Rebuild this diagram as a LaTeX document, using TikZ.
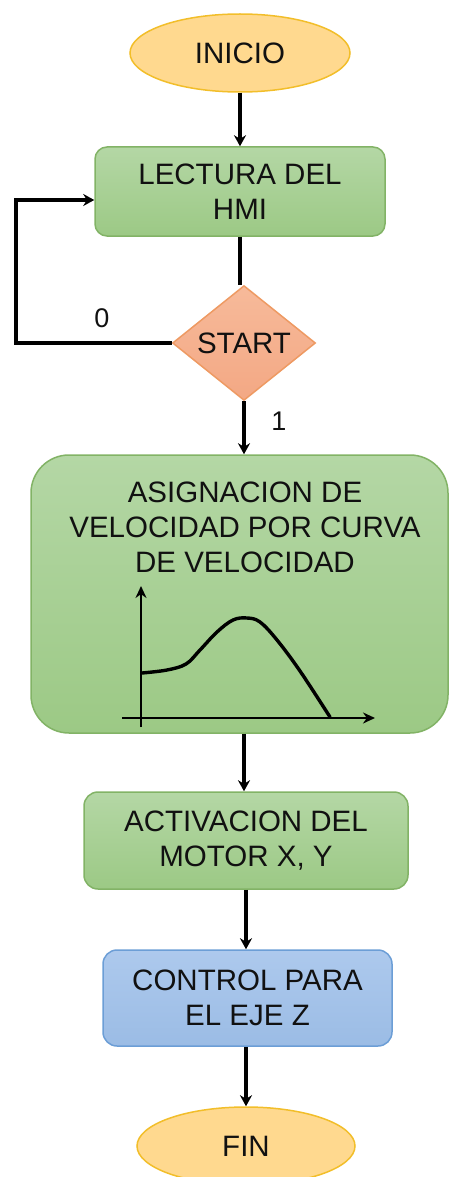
\documentclass[tikz,border=0pt]{standalone}
\usepackage{fontspec}
\setmainfont{Liberation Sans}
\usetikzlibrary{shapes.geometric,arrows.meta}
\definecolor{yelfill}{HTML}{FFD98F}
\definecolor{yelline}{HTML}{F2BE2A}
\definecolor{grtop}{HTML}{B4D7A5}
\definecolor{grbot}{HTML}{9CC985}
\definecolor{grline}{HTML}{82B366}
\definecolor{bltop}{HTML}{ADC9ED}
\definecolor{blbot}{HTML}{9BBCE5}
\definecolor{blline}{HTML}{6C9ED6}
\definecolor{ortop}{HTML}{F7BA9A}
\definecolor{orbot}{HTML}{F3A884}
\definecolor{orline}{HTML}{EE9A63}
\definecolor{txt}{HTML}{111111}
\tikzset{
  lbl/.style={font=\fontsize{29.5}{35}\selectfont, text=txt, align=center},
  term/.style={ellipse, draw=yelline, line width=1.5pt, fill=yelfill, lbl, inner sep=0pt},
  greenbox/.style={rectangle, draw=grline, line width=1.5pt, top color=grtop, bottom color=grbot, lbl, inner sep=0pt},
  bluebox/.style={rectangle, draw=blline, line width=1.5pt, top color=bltop, bottom color=blbot, lbl, inner sep=0pt},
  decision/.style={diamond, draw=orline, line width=1.5pt, top color=ortop, bottom color=orbot, lbl, inner sep=0pt},
  conn/.style={line width=3.6pt, draw=black},
  arr/.style={conn, -{Stealth[length=11pt,width=12pt,inset=3.5pt]}},
  axis/.style={line width=2.8pt, -{Stealth[length=12pt,width=11pt]}},
}
\begin{document}
\begin{tikzpicture}[x=1pt,y=-1pt]
\useasboundingbox (0,0) rectangle (449,1177);
\clip (0,0) rectangle (449,1177);
\node[term, minimum width=220pt, minimum height=78pt] (inicio) at (240,53) {INICIO};
\node[greenbox, rounded corners=12pt, minimum width=290pt, minimum height=89pt] (lectura) at (240,191.5) {LECTURA DEL\\HMI};
\node[decision, minimum width=143pt, minimum height=110pt] (start) at (244,343) {START};
\node[greenbox, rounded corners=38pt, minimum width=417pt, minimum height=278pt] (asig) at (239.5,594) {};
\node[lbl] (asigtxt) at (245,527) {ASIGNACION DE\\VELOCIDAD POR CURVA\\DE VELOCIDAD};
\node[greenbox, rounded corners=14pt, minimum width=324pt, minimum height=97pt] (activ) at (246,840.5) {ACTIVACION DEL\\MOTOR X, Y};
\node[bluebox, rounded corners=14pt, minimum width=289pt, minimum height=96pt] (control) at (247.5,998) {CONTROL PARA\\EL EJE Z};
\node[term, minimum width=218pt, minimum height=78pt] (fin) at (246,1146) {FIN};
% labels
\node[lbl, font=\fontsize{27}{30}\selectfont] (l0) at (102,318) {0};
\node[lbl, font=\fontsize{27}{30}\selectfont] (l1) at (279,421) {1};
% connectors
\coordinate (cornerA) at (16,343);
\draw[arr] (inicio.south) -- (lectura.north);
\draw[conn] (lectura.south) -- (lectura.south |- start.north);
\draw[arr] (start.west) -- (cornerA) |- ([yshift=-8.5pt]lectura.west);
\draw[arr] (start.south) -- (start.south |- asig.north);
\draw[arr] (start.south |- asig.south) -- (start.south |- activ.north);
\draw[arr] (activ.south) -- (activ.south |- control.north);
\draw[arr] (activ.south |- control.south) -- (activ.south |- fin.north);
% chart
\coordinate (yb) at (141,727);
\coordinate (yt) at (141,586);
\coordinate (xl) at (122,718);
\coordinate (xr) at (375,718);
\draw[axis] (yb) -- (yt);
\draw[axis] (xl) -- (xr);
\draw[line width=3.4pt, line cap=round, line join=round] plot[smooth, tension=0.6] coordinates {(142,673) (167,670) (186,664) (200,650) (217,632) (233,620) (247,618) (260,622) (277,640) (300,671) (330,717)};
\end{tikzpicture}
\end{document}
